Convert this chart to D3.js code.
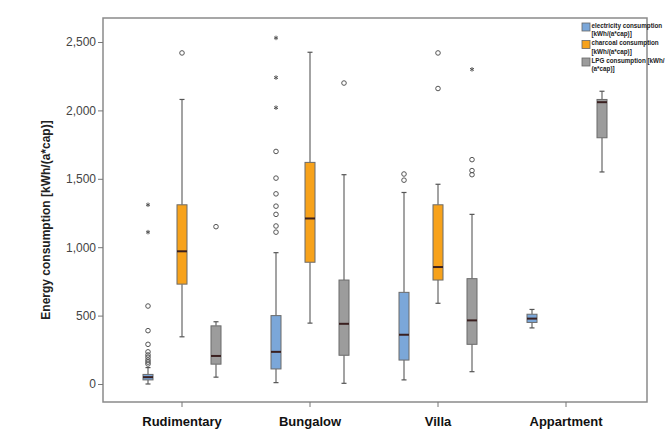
<!DOCTYPE html>
<html>
<head>
<meta charset="utf-8">
<script src="https://cdn.jsdelivr.net/npm/d3@7"></script>
<style>
  body { margin: 0; background: #fff; }
  svg { font-family: "Liberation Sans", Arial, sans-serif; }
</style>
</head>
<body>
<div id="chart"></div>
<script>
// ── Data ─────────────────────────────────────────────────────────
const categories = ['Rudimentary', 'Bungalow', 'Villa', 'Appartment'];
const seriesKeys = ['electricity', 'charcoal', 'lpg'];
const seriesLabels = [
  ['electricity consumption', '[kWh/(a*cap)]'],
  ['charcoal consumption', '[kWh/(a*cap)]'],
  ['LPG consumption [kWh/', '(a*cap)]']
];
const yTicks = [0, 500, 1000, 1500, 2000, 2500];

// [whiskerLow, q1, median, q3, whiskerHigh], null = no box
const electricityStats = [[0, 30, 50, 70, 120], [10, 110, 235, 500, 960], [30, 175, 360, 670, 1400], [410, 450, 478, 510, 545]];
const charcoalStats = [[345, 730, 970, 1310, 2080], [445, 890, 1210, 1620, 2425], [590, 760, 855, 1310, 1460], null];
const lpgStats = [[50, 145, 205, 425, 455], [5, 210, 440, 760, 1530], [90, 290, 465, 770, 1240], [1550, 1800, 2060, 2080, 2140]];

// outliers: circles and extremes (asterisks)
const electricityOutliers = [[146, 160, 175, 195, 212, 235, 290, 390, 570], [1110, 1155, 1240, 1300, 1390, 1505, 1700], [1490, 1535], []];
const electricityExtremes = [[1110, 1310], [2020, 2240, 2530], [], []];
const charcoalOutliers = [[2420], [], [2160, 2420], []];
const charcoalExtremes = [[], [], [], []];
const lpgOutliers = [[1150], [2200], [1530, 1560, 1640], []];
const lpgExtremes = [[], [], [2300], []];

const statsBySeries = [electricityStats, charcoalStats, lpgStats];
const outliersBySeries = [electricityOutliers, charcoalOutliers, lpgOutliers];
const extremesBySeries = [electricityExtremes, charcoalExtremes, lpgExtremes];
const colors = ['#7ba7d9', '#f7a21b', '#9c9c9c'];

// ── Layout ───────────────────────────────────────────────────────
const W = 668, H = 432;
const frame = { left: 103, right: 647, top: 18, bottom: 402 };

const svg = d3.select('#chart').append('svg').attr('width', W).attr('height', H);

const x0 = d3.scaleBand().domain(categories).range([118, 630]);
const x1 = d3.scaleBand().domain(seriesKeys).range([13, 115]);
const y = d3.scaleLinear().domain([0, 2500]).range([384, 42]);
const boxW = 10;

// frame
svg.append('rect')
  .attr('x', frame.left).attr('y', frame.top)
  .attr('width', frame.right - frame.left).attr('height', frame.bottom - frame.top)
  .attr('fill', 'none').attr('stroke', '#8a8a8a').attr('stroke-width', 1.5);

// y axis
const yAxis = svg.append('g')
  .attr('transform', `translate(${frame.left},0)`)
  .call(d3.axisLeft(y).tickValues(yTicks).tickSize(5).tickFormat(d3.format(',')));
yAxis.select('.domain').remove();
yAxis.selectAll('line').attr('stroke', '#777');
yAxis.selectAll('text').attr('fill', '#444').attr('font-size', 12).attr('x', -7);

svg.append('text')
  .attr('transform', `translate(50,${(frame.top + frame.bottom) / 2 + 10}) rotate(-90)`)
  .attr('text-anchor', 'middle')
  .attr('font-size', 12).attr('font-weight', 'bold').attr('fill', '#222')
  .text('Energy consumption [kWh/(a*cap)]');

// x axis
const xAxis = svg.append('g')
  .attr('transform', `translate(0,${frame.bottom})`)
  .call(d3.axisBottom(x0).tickSize(5).tickPadding(10));
xAxis.select('.domain').remove();
xAxis.selectAll('line').attr('stroke', '#777');
xAxis.selectAll('text').attr('fill', '#111').attr('font-size', 13).attr('font-weight', 'bold');

// ── Boxes ────────────────────────────────────────────────────────
seriesKeys.forEach((key, si) => {
  const g = svg.append('g').attr('class', 'series-' + key);
  categories.forEach((cat, ci) => {
    let cx = x0(cat) + x1(key) + x1.bandwidth() / 2;
    if (cat === 'Appartment' && key === 'lpg') cx += 2;
    const s = statsBySeries[si][ci];
    if (s) {
      const [lo, q1, med, q3, hi] = s;
      // whiskers
      g.append('line').attr('x1', cx).attr('x2', cx).attr('y1', y(q3)).attr('y2', y(hi))
        .attr('stroke', '#666').attr('stroke-width', 1.2);
      g.append('line').attr('x1', cx).attr('x2', cx).attr('y1', y(q1)).attr('y2', y(lo))
        .attr('stroke', '#666').attr('stroke-width', 1.2);
      [lo, hi].forEach(v => g.append('line')
        .attr('x1', cx - 2.5).attr('x2', cx + 2.5).attr('y1', y(v)).attr('y2', y(v))
        .attr('stroke', '#555').attr('stroke-width', 1.2));
      // box
      g.append('rect')
        .attr('x', cx - boxW / 2).attr('y', y(q3))
        .attr('width', boxW).attr('height', Math.max(1, y(q1) - y(q3)))
        .attr('fill', colors[si]).attr('stroke', '#6b6b6b').attr('stroke-width', 1);
      // median
      g.append('line')
        .attr('x1', cx - boxW / 2).attr('x2', cx + boxW / 2)
        .attr('y1', y(med)).attr('y2', y(med))
        .attr('stroke', '#3a2020').attr('stroke-width', 2);
    }
    // outliers (circles)
    outliersBySeries[si][ci].forEach(v => g.append('circle')
      .attr('cx', cx).attr('cy', y(v)).attr('r', 2.3)
      .attr('fill', 'none').attr('stroke', '#555').attr('stroke-width', 1));
    // extremes (asterisks)
    extremesBySeries[si][ci].forEach(v => g.append('path')
      .attr('d', d3.symbol(d3.symbolAsterisk, 14)())
      .attr('transform', `translate(${cx},${y(v)})`)
      .attr('stroke', '#555').attr('stroke-width', 1));
  });
});

// ── Legend ───────────────────────────────────────────────────────
const legend = svg.append('g').attr('transform', 'translate(582,20)');
seriesLabels.forEach((lines, i) => {
  const ly = i * 17.5;
  legend.append('rect')
    .attr('x', 0).attr('y', ly + 3).attr('width', 8).attr('height', 8)
    .attr('fill', colors[i]).attr('stroke', '#666').attr('stroke-width', 0.8);
  lines.forEach((t, j) => legend.append('text')
    .attr('x', 9.5).attr('y', ly + 7.5 + j * 8.5)
    .attr('font-size', 6.3).attr('font-weight', 'bold').attr('fill', '#222')
    .text(t));
});
</script>
</body>
</html>
